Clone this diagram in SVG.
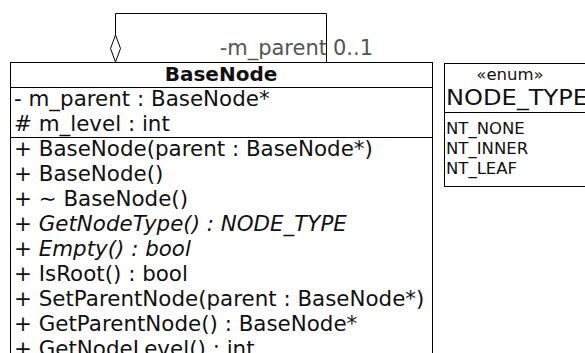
<svg xmlns="http://www.w3.org/2000/svg" width="585" height="353" viewBox="0 0 585 353">
<style>
.box{fill:#fff;stroke:#000;stroke-width:1}
.ln{stroke:#000;stroke-width:1;fill:none}
.t{font-family:"DejaVu Sans",sans-serif;font-size:21.4px;fill:#111}
.ti{font-style:italic}
.b{font-size:20px;font-weight:bold;text-anchor:middle}
.e{font-family:"DejaVu Sans",sans-serif;font-size:16.5px;fill:#111}
.g{font-family:"DejaVu Sans",sans-serif;font-size:21px;fill:#555}
</style>
<g id="connectors">
<path class="ln" d="M115.5,35 V13.5 H326.5 V62"/>
<path d="M115.5,35 L120.5,48.5 L115.5,62 L110.5,48.5 Z" fill="#fff" stroke="#000" stroke-width="1"/>
<text class="g" x="327" y="55" text-anchor="end">-m_parent</text>
<text class="g" x="333" y="55">0..1</text>
</g>
<g id="BaseNode">
<rect class="box" x="10.5" y="62.5" width="422" height="300"/>
<line class="ln" x1="10" y1="87.5" x2="432" y2="87.5"/>
<line class="ln" x1="10" y1="137.5" x2="432" y2="137.5"/>
<text class="t b" x="221" y="81">BaseNode</text>
<text class="t" x="14" y="106">- m_parent : BaseNode*</text>
<text class="t" x="14" y="131"># m_level : int</text>
<text class="t" x="14" y="156">+ BaseNode(parent : BaseNode*)</text>
<text class="t" x="14" y="181">+ BaseNode()</text>
<text class="t" x="14" y="206">+ ∼ BaseNode()</text>
<text class="t" x="14" y="231">+ <tspan class="ti">GetNodeType() : NODE_TYPE</tspan></text>
<text class="t" x="14" y="256">+ <tspan class="ti">Empty() : bool</tspan></text>
<text class="t" x="14" y="281">+ IsRoot() : bool</text>
<text class="t" x="14" y="306">+ SetParentNode(parent : BaseNode*)</text>
<text class="t" x="14" y="331">+ GetParentNode() : BaseNode*</text>
<text class="t" x="14" y="356">+ GetNodeLevel() : int</text>
</g>
<g id="NODE_TYPE">
<rect class="box" x="444.5" y="63.5" width="160" height="123"/>
<line class="ln" x1="444" y1="112.5" x2="600" y2="112.5"/>
<text class="e" x="510" y="80" text-anchor="middle" font-size="18">«enum»</text>
<text class="t" x="446" y="105" textLength="142" lengthAdjust="spacingAndGlyphs">NODE_TYPE</text>
<text class="e" x="446" y="134">NT_NONE</text>
<text class="e" x="446" y="154">NT_INNER</text>
<text class="e" x="446" y="174">NT_LEAF</text>
</g>
</svg>
